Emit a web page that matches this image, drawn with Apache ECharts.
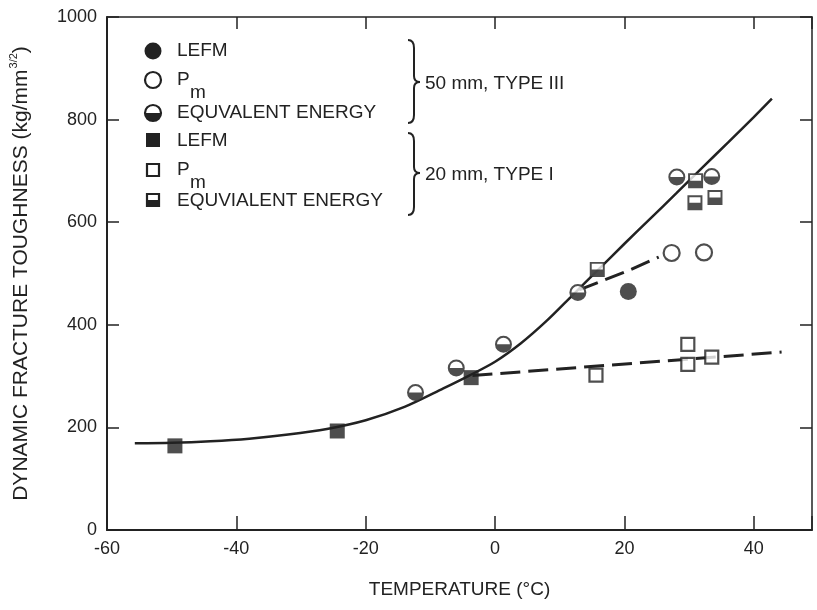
<!DOCTYPE html>
<html>
<head>
<meta charset="utf-8">
<script src="https://cdn.jsdelivr.net/npm/echarts@6/dist/echarts.min.js"></script>
<style>
  html, body { margin: 0; padding: 0; background: #fff; }
  #main { width: 817px; height: 610px; }
</style>
</head>
<body>
<div id="main"></div>
<script>
// ===== data =====
// 50 mm, type III
var lefm50 = [[20.6, 465]];
var pm50 = [[27.3, 540], [32.3, 541]];
var eq50 = [[-12.3, 268], [-6.0, 316], [1.3, 362], [12.8, 463], [28.1, 688], [33.5, 689]];
// 20 mm, type I
var lefm20 = [[-49.5, 164], [-24.4, 193], [-3.7, 297]];
var pm20 = [[15.6, 302], [29.8, 362], [29.8, 323], [33.5, 337]];
var eq20 = [[15.8, 508], [31.0, 681], [30.9, 638], [34.0, 648]];
// fitted curves
var fitCurve = [[-55.7, 169], [-50, 170], [-44, 173], [-38, 178], [-32, 186], [-26, 197], [-20, 214],
  [-14, 240], [-8, 276], [-4, 301], [0, 328], [4, 364], [8, 408], [12, 458], [16, 508], [20, 558],
  [24, 607], [28, 656], [32, 706], [36, 755], [40, 805], [42.8, 841]];
var pm50Trend = [[13, 468], [20.7, 506], [25.3, 532]];
var pm20Trend = [[-3.5, 301], [44.3, 347]];

var xTicks = [-60, -40, -20, 0, 20, 40];
var yTicks = [0, 200, 400, 600, 800, 1000];

var ink = '#222';
var font = '"Liberation Sans", Arial, Helvetica, sans-serif';

// ring + lower half, drawn over a white disc / square
var RING_HALF_CIRCLE = 'M0,10A10,10,0,1,1,20,10A10,10,0,1,1,0,10Z' +
  'M2.4,10A7.6,7.6,0,1,0,17.6,10A7.6,7.6,0,1,0,2.4,10Z' +
  'M2.4,10L17.6,10A7.6,7.6,0,0,1,2.4,10Z';
var RING_HALF_SQUARE = 'M0,0L20,0L20,20L0,20Z' +
  'M2.6,2.6L2.6,17.4L17.4,17.4L17.4,2.6Z' +
  'M2.6,10L17.4,10L17.4,17.4L2.6,17.4Z';

var chart = echarts.init(document.getElementById('main'));

function scatter(name, data, symbol, size, style) {
  return {
    name: name,
    type: 'scatter',
    data: data,
    symbol: symbol,
    symbolSize: size,
    itemStyle: style,
    z: 3,
    silent: true
  };
}

function trend(data, dashed, width, smooth) {
  return {
    type: 'line',
    data: data,
    showSymbol: false,
    smooth: smooth,
    lineStyle: { color: ink, width: width, type: dashed ? [20, 8] : 'solid' },
    z: 2,
    silent: true
  };
}

// legend drawn by hand (symbols + braces)
var lx = 153, tx = 177;
var openStyle = { fill: '#fff', stroke: ink, lineWidth: 2.2 };
var legendEls = [
  { type: 'circle', shape: { cx: lx, cy: 51, r: 8.5 }, style: { fill: ink } },
  { type: 'circle', shape: { cx: lx, cy: 80, r: 8 }, style: openStyle },
  { type: 'circle', shape: { cx: lx, cy: 113, r: 8 }, style: openStyle },
  { type: 'sector', shape: { cx: lx, cy: 113, r: 8, r0: 0, startAngle: 0, endAngle: Math.PI }, style: { fill: ink } },
  { type: 'rect', shape: { x: lx - 7, y: 133, width: 14, height: 14 }, style: { fill: ink } },
  { type: 'rect', shape: { x: lx - 6, y: 164, width: 12, height: 12 }, style: openStyle },
  { type: 'rect', shape: { x: lx - 6, y: 194, width: 12, height: 12 }, style: openStyle },
  { type: 'rect', shape: { x: lx - 6, y: 200, width: 12, height: 6 }, style: { fill: ink } }
];
var legendText = [
  ['LEFM', tx, 51], ['P', tx, 80], ['m', tx + 13, 93], ['EQUVALENT ENERGY', tx, 113],
  ['LEFM', tx, 141], ['P', tx, 170], ['m', tx + 13, 183], ['EQUVIALENT ENERGY', tx, 201],
  ['50 mm, TYPE III', 425, 84], ['20 mm, TYPE I', 425, 175]
];
legendText.forEach(function (t) {
  legendEls.push({
    type: 'text', x: t[1], y: t[2],
    style: { text: t[0], fill: ink, font: '19px ' + font, textAlign: 'left', textVerticalAlign: 'middle' }
  });
});
function brace(top, tip, bottom) {
  var st = { stroke: ink, lineWidth: 2, fill: null };
  return [
    { type: 'bezierCurve', shape: { x1: 408, y1: top, cpx1: 414, cpy1: top, x2: 414, y2: top + 8 }, style: st },
    { type: 'line', shape: { x1: 414, y1: top + 8, x2: 414, y2: tip - 6 }, style: st },
    { type: 'bezierCurve', shape: { x1: 414, y1: tip - 6, cpx1: 414, cpy1: tip, x2: 420, y2: tip }, style: st },
    { type: 'bezierCurve', shape: { x1: 420, y1: tip, cpx1: 414, cpy1: tip, x2: 414, y2: tip + 6 }, style: st },
    { type: 'line', shape: { x1: 414, y1: tip + 6, x2: 414, y2: bottom - 8 }, style: st },
    { type: 'bezierCurve', shape: { x1: 414, y1: bottom - 8, cpx1: 414, cpy1: bottom, x2: 408, y2: bottom }, style: st }
  ];
}
legendEls = legendEls.concat(brace(40, 82, 123), brace(133, 173, 215));

var option = {
  backgroundColor: '#fff',
  animation: false,
  textStyle: { fontFamily: font, color: ink },
  grid: { left: 107, right: 5, top: 17, bottom: 80 },
  xAxis: [
    {
      type: 'value', min: -60, max: 49, interval: 20, position: 'bottom',
      name: 'TEMPERATURE (°C)', nameLocation: 'middle', nameGap: 50,
      nameTextStyle: { fontSize: 19, color: ink, fontFamily: font },
      axisLine: { onZero: false, lineStyle: { color: ink, width: 2 } },
      axisTick: { inside: true, length: 14, lineStyle: { color: ink, width: 1.5 } },
      axisLabel: {
        fontSize: 18, color: ink, margin: 10, fontFamily: font,
        formatter: function (v) { return xTicks.indexOf(v) >= 0 ? String(v) : ''; }
      },
      splitLine: { show: false }
    },
    {
      type: 'value', min: -60, max: 49, interval: 20, position: 'top',
      axisLine: { onZero: false, lineStyle: { color: ink, width: 1.5 } },
      axisTick: { inside: true, length: 12, lineStyle: { color: ink, width: 1.5 } },
      axisLabel: { show: false },
      splitLine: { show: false }
    }
  ],
  yAxis: [
    {
      type: 'value', min: 0, max: 1000, interval: 200, position: 'left',
      name: '{a|DYNAMIC FRACTURE TOUGHNESS (kg/mm}{s|3/2}{a|)}',
      nameLocation: 'middle', nameGap: 73,
      nameTextStyle: {
        color: ink, fontFamily: font,
        rich: {
          a: { fontSize: 21, lineHeight: 26, color: ink, fontFamily: font },
          s: { fontSize: 11, lineHeight: 26, verticalAlign: 'top', color: ink, fontFamily: font, padding: [0, 0, 10, 1] }
        }
      },
      axisLine: { onZero: false, lineStyle: { color: ink, width: 2 } },
      axisTick: { inside: true, length: 12, lineStyle: { color: ink, width: 1.5 } },
      axisLabel: {
        fontSize: 18, color: ink, margin: 10, fontFamily: font,
        formatter: function (v) { return yTicks.indexOf(v) >= 0 ? String(v) : ''; }
      },
      splitLine: { show: false }
    },
    {
      type: 'value', min: 0, max: 1000, interval: 200, position: 'right',
      axisLine: { show: true, onZero: false, lineStyle: { color: ink, width: 1.5 } },
      axisTick: { show: true, inside: true, length: 12, lineStyle: { color: ink, width: 1.5 } },
      axisLabel: { show: false },
      splitLine: { show: false }
    }
  ],
  graphic: legendEls,
  series: [
    trend(fitCurve, false, 2.5, 0.3),
    trend(pm50Trend, true, 3, false),
    trend(pm20Trend, true, 3, false),

    scatter('LEFM 50', lefm50, 'circle', 17, { color: ink }),
    scatter('Pm 50', pm50, 'circle', 16, { color: '#fff', borderColor: ink, borderWidth: 2.2 }),
    scatter('EQ 50 base', eq50, 'circle', 16, { color: '#fff' }),
    scatter('EQ 50', eq50, 'path://' + RING_HALF_CIRCLE, 17, { color: ink }),

    scatter('LEFM 20', lefm20, 'rect', 15, { color: ink }),
    scatter('Pm 20', pm20, 'rect', 13, { color: '#fff', borderColor: ink, borderWidth: 2.2 }),
    scatter('EQ 20 base', eq20, 'rect', 14, { color: '#fff' }),
    scatter('EQ 20', eq20, 'path://' + RING_HALF_SQUARE, 15, { color: ink })
  ]
};

chart.setOption(option);
</script>
</body>
</html>
